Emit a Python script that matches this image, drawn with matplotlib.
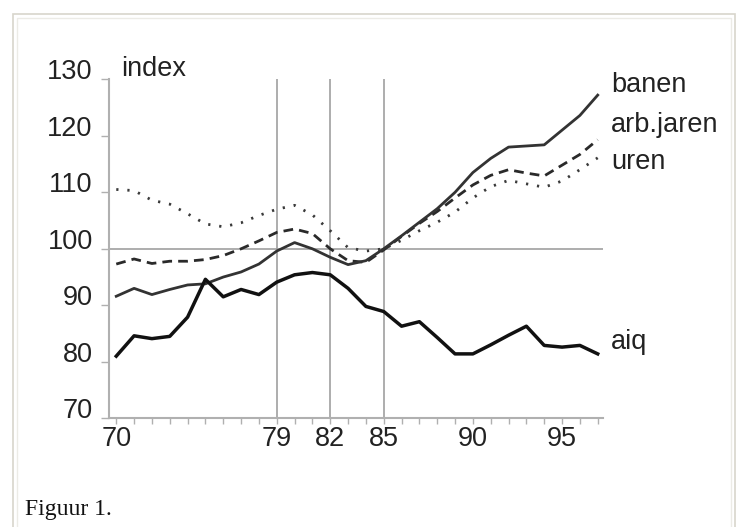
import matplotlib
matplotlib.use("Agg")
import matplotlib.pyplot as plt
from matplotlib.patches import Rectangle

# years 1970..1997, index values
years = list(range(70, 98))
banen = [91.6, 93.0, 91.9, 92.8, 93.6, 93.8, 95.0, 95.9, 97.3, 99.6,
         101.1, 100.0, 98.5, 97.2, 97.9, 100.0, 102.3, 104.7, 107.1, 110.0,
         113.5, 116.0, 118.0, 118.2, 118.4, 121.0, 123.6, 127.2]
arb_jaren = [97.3, 98.2, 97.4, 97.8, 97.8, 98.1, 98.8, 100.0, 101.4, 102.9,
             103.5, 102.7, 100.0, 97.9, 97.6, 99.8, 102.2, 104.5, 106.6, 109.0,
             111.3, 113.0, 114.0, 113.4, 112.9, 114.8, 116.7, 119.3]
uren = [110.5, 110.3, 108.6, 107.9, 106.2, 104.4, 103.9, 104.6, 105.9, 107.0,
        107.7, 106.0, 103.2, 100.2, 99.6, 100.0, 101.5, 103.2, 104.7, 106.5,
        109.0, 111.0, 112.1, 111.5, 110.9, 112.0, 114.0, 116.1]
aiq = [81.0, 84.6, 84.1, 84.5, 87.9, 94.6, 91.5, 92.8, 91.9, 94.1,
       95.4, 95.8, 95.4, 93.0, 89.8, 88.9, 86.3, 87.1, 84.3, 81.4,
       81.4, 83.0, 84.7, 86.3, 82.9, 82.6, 82.9, 81.4]

marked_years = [79, 82, 85]
xtick_labels = {70: "70", 79: "79", 82: "82", 85: "85", 90: "90", 95: "95"}
yticks = [70, 80, 90, 100, 110, 120, 130]

plt.rcParams['font.family'] = ['Liberation Sans', 'DejaVu Sans']

fig = plt.figure(figsize=(7.41, 5.27), dpi=100)
# page frame
fig.add_artist(Rectangle((13 / 741, -0.01), 722 / 741, 1 - 14 / 527 + 0.01,
                         transform=fig.transFigure, fill=False,
                         edgecolor='#d8d5cc', lw=1.2))
fig.add_artist(Rectangle((17 / 741, -0.01), 714 / 741, 1 - 18 / 527 + 0.01,
                         transform=fig.transFigure, fill=False,
                         edgecolor='#ecebe6', lw=1.0))

ax = fig.add_axes([109.3 / 741, 1 - 418.3 / 527, 493.4 / 741, 339 / 527])

grey = '#a0a0a0'
for yr in marked_years:
    ax.plot([yr, yr], [70, 130], color=grey, lw=1.2, zorder=1)
ax.axhline(100, color=grey, lw=1.2, zorder=1)

ax.plot(years, uren, color='#3a3a3a', lw=2.0, linestyle=(0, (0.8, 3.2)), zorder=3)
ax.plot(years, arb_jaren, color='#2a2a2a', lw=2.0, linestyle=(0, (3.5, 2.2)), zorder=3)
ax.plot(years, banen, color='#333333', lw=2.0, zorder=4)
ax.plot(years, aiq, color='#111111', lw=2.5, zorder=4)

ax.set_xlim(69.61, 97.28)
ax.set_ylim(70, 130)

for s in ['top', 'right']:
    ax.spines[s].set_visible(False)
for s in ['left', 'bottom']:
    ax.spines[s].set_color('#b0b0b0')
    ax.spines[s].set_linewidth(1.5)

ax.set_xticks(years)
ax.set_xticklabels([xtick_labels.get(y, "") for y in years])
ax.set_yticks(yticks)
ax.set_yticklabels([str(v) for v in yticks])
ax.tick_params(axis='x', length=4, width=1, color='#b0b0b0', pad=1.5,
               labelsize=19.5, labelcolor='#222222')
ax.tick_params(axis='y', length=6, width=1, color='#b0b0b0', pad=6,
               labelsize=19.5, labelcolor='#222222')
for lab in ax.get_yticklabels():
    lab.set_va('baseline')

txt = dict(fontsize=19.5, color='#222222', clip_on=False)
ax.text(70.25, 130.6, "index", ha='left', va='baseline', **txt)
ax.text(97.75, 127.8, "banen", ha='left', va='baseline', **txt)
ax.text(97.75, 120.6, "arb.jaren", ha='left', va='baseline', **txt)
ax.text(97.75, 114.2, "uren", ha='left', va='baseline', **txt)
ax.text(97.75, 82.3, "aiq", ha='left', va='baseline', **txt)

fig.text(25 / 741, 1 - 515 / 527, "Figuur 1.", family=['Liberation Serif'],
         fontsize=17, color='#111111', ha='left', va='baseline')

fig.savefig("out.png", dpi=100)
